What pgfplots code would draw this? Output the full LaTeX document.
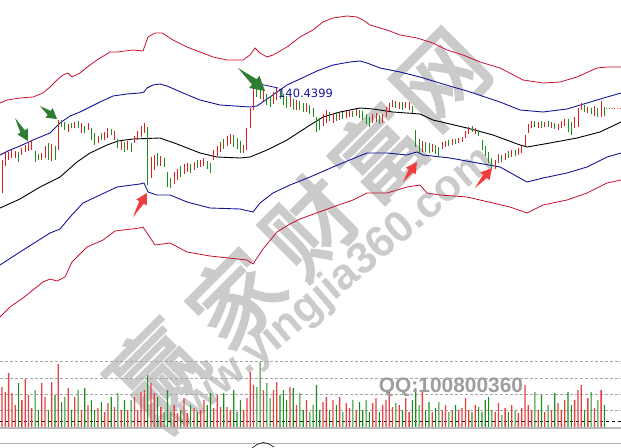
\documentclass[border=0pt]{standalone}
\usepackage{pgfplots}
\pgfplotsset{compat=1.18}
\usepackage{pgfplotstable}
\usepackage{fontspec}
\setmainfont{Liberation Sans}
\newfontfamily\cjk[FakeBold=3]{Noto Sans CJK SC}
\newfontfamily\dejavu{DejaVu Sans}
\definecolor{cred}{HTML}{E0201E}
\definecolor{cgreen}{HTML}{1E8C1E}
\definecolor{bandred}{HTML}{C8102E}
\definecolor{bandblue}{HTML}{15159A}
\definecolor{arrowgreen}{HTML}{2E7D32}
\definecolor{arrowred}{HTML}{F03C3C}
\definecolor{wm}{HTML}{CBCBCB}

% candles: i = bar index, h = high (pixel y), l = low (pixel y), v = volume top (pixel y)
\pgfplotstableread{
i h l v
0 160 193 387
1 153 166 392
2 152 160 373
3 150 158 393
4 151 158 405
6 148 155 400
7 145 152 379
8 143 151 395
9 140 150 408
12 153 160 383
13 146 158 397
15 144 161 382
17 120 150 364
20 124 132 388
22 122 128 397
24 123 133 410
26 123 130 405
29 136 143 408
31 132 140 412
32 128 138 403
34 131 140 407
36 141 150 410
38 141 150 410
40 136 143 397
41 131 140 410
42 126 137 392
43 123 133 390
45 157 178 383
46 155 170 393
48 156 166 407
52 172 184 405
53 169 180 413
55 164 174 398
56 163 172 413
58 162 170 408
60 160 167 410
61 158 166 400
64 150 160 408
65 146 156 395
66 142 152 407
68 136 146 407
69 134 144 410
73 145 153 410
74 128 150 398
75 108 128 372
76 84 110 385
79 90 101 390
82 92 104 390
83 88 100 382
87 97 107 387
89 100 110 405
92 103 112 400
97 114 126 402
98 110 123 397
100 113 123 400
102 113 120 397
104 111 118 403
105 110 117 408
107 109 116 410
112 114 123 403
113 113 122 398
115 114 123 405
116 107 117 400
117 103 111 390
118 100 107 407
120 102 109 405
122 102 108 398
123 102 110 412
127 141 152 390
130 144 152 412
133 142 149 410
134 141 147 405
136 139 145 410
138 138 143 410
139 137 142 408
140 131 138 398
141 127 134 410
143 128 134 405
149 160 169 412
150 154 163 403
152 153 160 408
154 150 157 405
156 148 155 413
157 146 153 408
158 135 146 385
159 124 133 405
160 121 128 410
162 122 128 410
164 122 127 412
166 122 128 410
168 124 130 403
169 121 128 410
170 119 126 400
173 117 128 400
174 108 127 390
175 103 110 385
177 107 113 398
179 106 116 408
181 101 117 390
}\candR

\pgfplotstableread{
i h l v
5 152 162 383
10 151 162 390
11 154 160 410
14 143 160 410
16 146 160 395
18 120 127 402
19 122 130 397
21 123 128 410
23 121 128 390
25 126 133 388
27 128 140 400
28 133 145 410
30 133 140 402
33 129 135 397
35 139 148 393
37 142 152 400
39 143 152 400
44 127 185 375
47 153 166 397
49 158 167 412
50 172 187 390
51 178 188 412
54 166 177 410
57 164 173 405
59 160 168 412
62 161 169 405
63 163 173 393
67 139 149 393
70 135 147 390
71 138 149 412
72 141 153 400
77 86 97 387
78 88 99 362
80 94 105 383
81 96 107 398
84 90 99 395
85 94 105 390
86 96 108 400
88 99 110 388
90 101 110 393
91 103 112 410
93 105 114 412
94 108 117 405
95 117 132 385
96 118 130 410
99 112 121 410
101 112 121 405
103 112 119 412
106 111 117 400
108 110 118 402
109 111 120 410
110 114 124 400
111 117 127 412
114 115 124 412
119 101 108 403
121 102 110 410
124 106 113 400
125 130 147 388
126 139 153 405
128 142 152 410
129 143 153 402
131 145 154 408
132 147 157 402
135 140 146 412
137 139 144 405
142 126 132 412
144 130 136 407
145 140 150 412
146 146 156 400
147 152 163 397
148 158 168 410
151 155 162 415
153 151 158 412
155 150 156 410
161 121 127 392
163 121 128 395
165 121 127 405
167 123 129 393
171 119 132 392
172 122 135 405
176 105 112 410
178 108 114 392
180 108 117 400
182 107 116 405
}\candG

\begin{document}
\begin{tikzpicture}
\begin{axis}[name=main, at={(0,0)}, anchor=south west, scale only axis,
  width=621bp, height=448bp, xmin=0, xmax=621, ymin=0, ymax=448,
  y dir=reverse, hide axis, clip=true]

% watermark
\node[rotate=45, text=wm, font=\cjk\fontsize{90}{90}\selectfont] at (axis cs:156,370) {赢};
\node[rotate=45, text=wm, font=\cjk\fontsize{90}{90}\selectfont] at (axis cs:235,298) {家};
\node[rotate=45, text=wm, font=\cjk\fontsize{90}{90}\selectfont] at (axis cs:310,225) {财};
\node[rotate=45, text=wm, font=\cjk\fontsize{90}{90}\selectfont] at (axis cs:378,153) {富};
\node[rotate=45, text=wm, font=\cjk\fontsize{90}{90}\selectfont] at (axis cs:442,80) {网};
\node[rotate=40.5, text=wm, font=\bfseries\fontsize{44}{44}\selectfont] at (axis cs:326,294) {www.yingjia360.com};

% volume panel grid
\addplot[gray!70, dash pattern=on 3bp off 2bp, line width=0.6] coordinates {(0,361) (621,361)};
\addplot[gray!70, dash pattern=on 3bp off 2bp, line width=0.6] coordinates {(0,378) (621,378)};
\addplot[gray!70, dash pattern=on 3bp off 2bp, line width=0.6] coordinates {(0,394) (621,394)};
\addplot[gray!70, dash pattern=on 3bp off 2bp, line width=0.6] coordinates {(0,410) (621,410)};
\addplot[black, dash pattern=on 3bp off 3bp, line width=0.7] coordinates {(0,421) (621,421)};
\addplot[gray!60, line width=0.9] coordinates {(0,443) (621,443)};
\addplot[black, line width=0.6] coordinates {(252,448) (257,444.5) (263,442.5) (268,443.5) (274,447)};

% bands
\addplot[bandred, line width=0.8] coordinates {
(0,103) (7,100) (20,98) (33,97) (43,93) (50,87) (57,80) (63,75) (68,73) (72,77) (80,73) (90,65) (97,60) (110,52) (117,52) (133,50) (143,51) (148,37) (155,33) (162,33) (173,40) (187,47) (200,52) (213,57) (227,60) (243,60) (250,55) (255,48) (260,53) (267,57) (273,55) (287,47) (300,37) (313,30) (323,22) (333,18) (347,16) (357,17) (363,20) (370,25) (387,30) (400,35) (417,38) (433,43) (447,50) (463,55) (480,62) (500,68) (523,80) (543,83) (560,82) (577,77) (597,68) (607,67) (621,67)};
\addplot[bandblue, line width=0.9] coordinates {
(0,155) (10,150) (20,146) (33,140) (50,133) (60,123) (70,116) (80,112) (100,102) (113,96) (127,94) (140,93) (144,92) (147,88) (153,85) (160,84) (167,86) (183,93) (200,100) (220,105) (250,107) (257,106) (270,97) (287,85) (300,79) (317,71) (333,65) (350,62) (360,61) (367,63) (380,68) (400,72) (420,77) (433,81) (453,87) (467,91) (485,97) (500,102) (520,110) (543,112) (567,109) (587,103) (607,97) (621,93)};
\addplot[black, line width=0.9] coordinates {
(0,208) (20,199) (40,187) (60,177) (77,162) (90,153) (107,145) (118,141) (133,139) (160,138) (177,144) (200,153) (217,157) (240,158) (250,157) (267,150) (287,140) (307,127) (323,117) (340,112) (360,108) (373,109) (393,112) (420,114) (433,120) (467,128) (493,135) (520,145) (527,147) (550,143) (577,138) (600,132) (621,122)};
\addplot[bandblue, line width=0.9] coordinates {
(0,265) (20,252) (50,233) (60,229) (70,217) (83,203) (100,195) (117,187) (140,184) (144,183) (148,192) (157,195) (170,195) (187,202) (210,208) (240,209) (253,212) (260,203) (273,193) (290,185) (310,177) (333,167) (357,157) (367,153) (387,153) (407,155) (413,153) (417,152) (423,155) (450,158) (483,164) (500,167) (527,182) (543,178) (567,173) (587,167) (607,157) (621,153)};
\addplot[bandred, line width=0.8] coordinates {
(0,317) (10,307) (23,298) (43,282) (50,279) (57,281) (65,277) (72,262) (87,247) (103,240) (115,231) (140,228) (143,227) (155,245) (170,243) (187,252) (210,256) (247,260) (253,264) (263,249) (277,232) (290,224) (300,219) (333,207) (353,200) (367,193) (387,193) (407,187) (420,185) (427,193) (440,195) (467,197) (493,203) (510,207) (527,213) (543,205) (567,200) (587,193) (607,183) (621,180)};

% candles
\addplot[cred, line width=0.9, quiver={u=0, v=\thisrow{l}-\thisrow{h}}]
  table[x expr=2+3.31*\thisrow{i}, y=h] {\candR};
\addplot[cgreen, line width=0.9, quiver={u=0, v=\thisrow{l}-\thisrow{h}}]
  table[x expr=2+3.31*\thisrow{i}, y=h] {\candG};

% last price and max marker
\addplot[brown!70!red, dotted, line width=0.8] coordinates {(606,108) (621,108)};
\addplot[bandblue, line width=0.8] coordinates {(255,83) (278,88)};
\node[anchor=west, text=bandblue, inner sep=0pt, font=\dejavu\fontsize{11.5}{11.5}\selectfont] at (axis cs:278,93) {140.4399};

% arrows
\addplot[fill=arrowgreen, draw=none] coordinates {(15,118) (20.4,132.6) (17.4,134.4) (28,141) (27.8,128.4) (24.8,130.2)} -- cycle;
\addplot[fill=arrowgreen, draw=none] coordinates {(40,106) (47.6,114.9) (45.5,117.7) (57,119) (52.7,108.1) (50.6,110.9)} -- cycle;
\addplot[fill=arrowgreen, draw=none] coordinates {(238,68) (252.0,84.6) (249.1,88.0) (265,91) (259.5,75.8) (256.6,79.2)} -- cycle;
\addplot[fill=arrowred, draw=none] coordinates {(133,217) (143.7,203.8) (146.7,205.5) (147,193) (136.3,199.5) (139.3,201.2)} -- cycle;
\addplot[fill=arrowred, draw=none] coordinates {(403,182) (412.8,172.4) (415.6,174.4) (417,162) (405.8,167.6) (408.7,169.6)} -- cycle;
\addplot[fill=arrowred, draw=none] coordinates {(475,188) (486.8,178.0) (489.5,180.3) (492,168) (480.3,172.5) (483.0,174.8)} -- cycle;
\end{axis}

\begin{axis}[at={(0,21bp)}, anchor=south west, scale only axis,
  width=621bp, height=77bp, xmin=0, xmax=621, ymin=0, ymax=77,
  hide axis, clip=false]
\addplot[ybar, bar width=1.3, bar shift=0pt, draw=none, fill=cred!85]
  table[x expr=2+3.31*\thisrow{i}, y expr=427-\thisrow{v}] {\candR};
\addplot[ybar, bar width=1.1, bar shift=0pt, draw=none, fill=cgreen]
  table[x expr=2+3.31*\thisrow{i}, y expr=427-\thisrow{v}] {\candG};
\addplot[gray!55, line width=2] coordinates {(0,-0.8) (621,-0.8)};
\node[text=black!38, font=\bfseries\fontsize{21}{21}\selectfont] at (axis cs:451,40) {QQ:100800360};
\end{axis}
\pgfresetboundingbox
\path[use as bounding box] (0,0) rectangle (621bp,448bp);
\end{tikzpicture}
\end{document}
